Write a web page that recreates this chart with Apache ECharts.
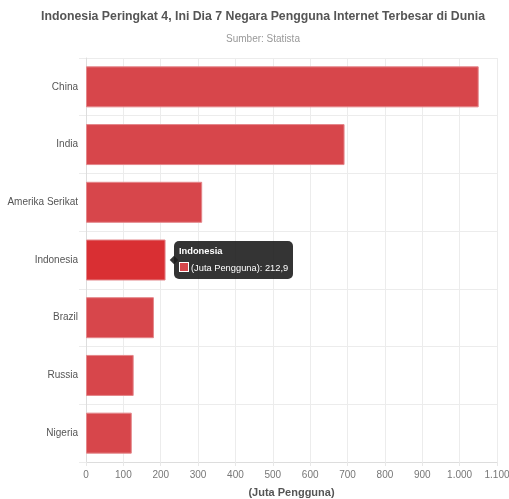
<!DOCTYPE html>
<html><head><meta charset="utf-8">
<script src="https://cdn.jsdelivr.net/npm/echarts@6/dist/echarts.min.js"></script>
<style>html,body{margin:0;padding:0;background:#fff}#c{width:509px;height:499px}</style>
</head><body><div id="c"></div>
<script>
var categories = ['China', 'India', 'Amerika Serikat', 'Indonesia', 'Brazil', 'Russia', 'Nigeria'];
var values = [1051, 692, 311, 212.9, 181.8, 127.6, 122.5];
var xTicks = { min: 0, max: 1100, interval: 100 };
var seriesName = '(Juta Pengguna)';
var titleText = 'Indonesia Peringkat 4, Ini Dia 7 Negara Pengguna Internet Terbesar di Dunia';
var subText = 'Sumber: Statista';
var highlightIndex = 3;

var font = 'Liberation Sans, Arial, sans-serif';
var chart = echarts.init(document.getElementById('c'), null, {renderer: 'canvas'});
function fmtNum(v) {
  var s = String(v);
  var parts = s.split('.');
  parts[0] = parts[0].replace(/\B(?=(\d{3})+(?!\d))/g, '.');
  return parts.join(',');
}
chart.setOption({
  animation: false,
  title: {
    text: titleText, subtext: subText, left: 258, textAlign: 'center', top: 6, itemGap: 11,
    textStyle: {fontFamily: font, fontSize: 12.3, fontWeight: 'bold', color: '#555'},
    subtextStyle: {fontFamily: font, fontSize: 10, color: '#999'}
  },
  grid: {left: 86, right: 12, top: 58, bottom: 37, containLabel: false, outerBoundsMode: 'none'},
  tooltip: {
    trigger: 'item', position: 'right', transitionDuration: 0, alwaysShowContent: true,
    backgroundColor: 'rgba(30,30,30,0.9)', borderColor: 'rgba(30,30,30,0.9)', borderWidth: 0,
    padding: [4, 5], extraCssText: 'border-radius:5px;box-shadow:none;',
    textStyle: {color: '#fff', fontFamily: font, fontSize: 9.3},
    formatter: function (p) {
      return '<div style="font-weight:bold;line-height:13px;margin-bottom:4px">' + p.name + '</div>' +
        '<div style="line-height:13px"><span style="display:inline-block;width:8px;height:8px;background:#d7464b;border:1px solid #fff;vertical-align:-1px;margin-right:2px"></span>' +
        p.seriesName + ': ' + fmtNum(p.value) + '</div>';
    }
  },
  xAxis: {
    type: 'value', min: xTicks.min, max: xTicks.max, interval: xTicks.interval,
    name: seriesName, nameLocation: 'middle', nameGap: 25,
    nameTextStyle: {fontFamily: font, fontSize: 11, fontWeight: 'bold', color: '#555'},
    axisLine: {show: true, lineStyle: {color: '#ddd'}},
    axisTick: {show: true, length: 4, lineStyle: {color: '#e8e8e8'}},
    axisLabel: {fontFamily: font, fontSize: 10, color: '#777', margin: 8, formatter: fmtNum},
    splitLine: {show: true, lineStyle: {color: '#ececec'}}
  },
  yAxis: {
    type: 'category', data: categories, inverse: true,
    axisLine: {show: true, lineStyle: {color: '#ddd'}},
    axisTick: {show: true, length: 7, lineStyle: {color: '#ececec'}},
    axisLabel: {fontFamily: font, fontSize: 10, color: '#555', margin: 8},
    splitLine: {show: true, lineStyle: {color: '#ececec'}}
  },
  series: [{
    type: 'bar', name: seriesName, data: values, barWidth: 41,
    itemStyle: {color: '#d7464b', borderColor: '#e4868a', borderWidth: 1},
    emphasis: {itemStyle: {color: '#d92f33', borderColor: '#e4868a'}}
  }]
});
chart.dispatchAction({type: 'highlight', seriesIndex: 0, dataIndex: highlightIndex});
chart.dispatchAction({type: 'showTip', seriesIndex: 0, dataIndex: highlightIndex});
</script></body></html>
